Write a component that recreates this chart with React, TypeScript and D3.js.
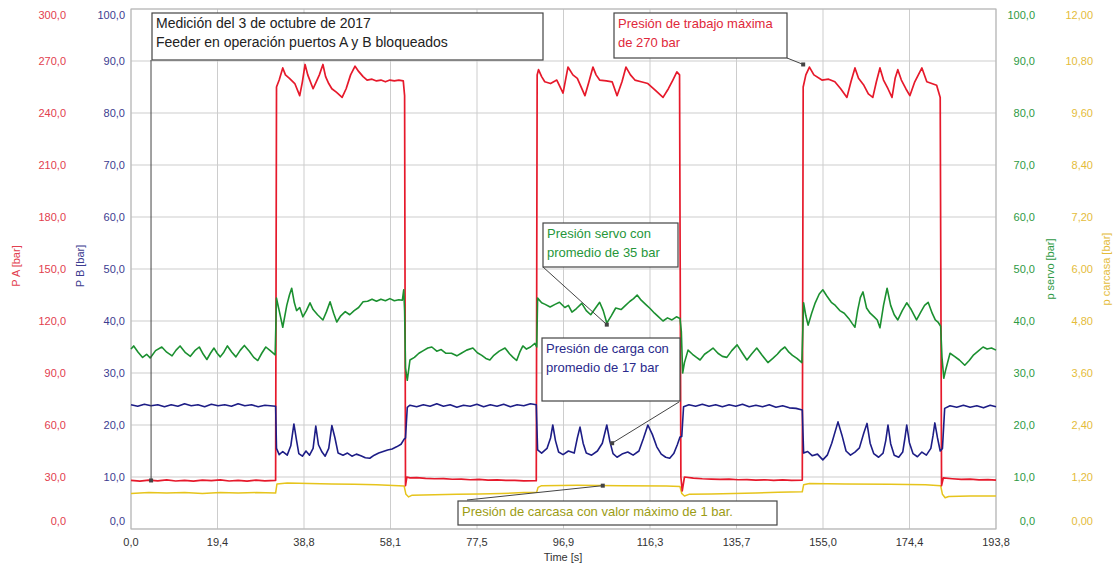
import React from "react";
import * as d3 from "d3";

type Pt = [number, number];

// tick labels (comma decimals as in the original)
const timeTicks = ["0,0", "19,4", "38,8", "58,1", "77,5", "96,9", "116,3", "135,7", "155,0", "174,4", "193,8"];
const paTicks = ["0,0", "30,0", "60,0", "90,0", "120,0", "150,0", "180,0", "210,0", "240,0", "270,0", "300,0"];
const pbTicks = ["0,0", "10,0", "20,0", "30,0", "40,0", "50,0", "60,0", "70,0", "80,0", "90,0", "100,0"];
const servoTicks = ["0,0", "10,0", "20,0", "30,0", "40,0", "50,0", "60,0", "70,0", "80,0", "90,0", "100,0"];
const carcasaTicks = ["0,00", "1,20", "2,40", "3,60", "4,80", "6,00", "7,20", "8,40", "9,60", "10,80", "12,00"];

// P A [bar]  (time s, bar)
const pressureA: Pt[] = [
  [0, 28.0], [2, 27.6], [4, 28.2], [6, 27.8], [8, 28.3], [10, 27.7], [12, 28.1], [14, 27.6], [16, 28.2], [18, 27.9],
  [20, 28.3], [22, 27.7], [24, 28.0], [26, 27.6], [28, 28.2], [30, 27.8], [32.4, 28.0],
  [32.6, 255], [33.2, 259], [34.0, 266], [34.6, 262], [35.5, 260], [36.7, 257], [37.8, 250], [38.4, 258], [39.0, 268],
  [39.6, 262], [40.8, 254], [41.5, 258], [42.2, 262], [43.0, 268], [43.6, 261], [44.3, 257], [45.0, 254], [46.0, 252],
  [47.3, 249], [48.2, 254], [49.2, 262], [50.2, 267], [51.0, 264], [52.0, 261], [52.9, 259], [54, 259.5], [55, 258.5],
  [56, 259], [57, 258], [58, 259], [59, 258.5], [60, 259], [61.0, 258.5], [61.3, 250],
  [61.5, 25], [61.8, 30], [62.5, 29.5], [64, 29.6], [66, 29.2], [68, 29.0], [70, 29.1], [72, 28.7], [74, 28.8],
  [76, 28.4], [78, 28.6], [80, 28.2], [82, 28.3], [84, 28.0], [86, 28.1], [88, 27.8], [90.8, 27.9],
  [91.0, 262], [91.3, 265], [92.0, 261], [92.7, 258], [94, 257], [95.4, 259], [96.8, 251.5], [97.9, 266.5], [99, 262],
  [100, 260], [101.7, 250], [102.6, 258], [103.5, 266.5], [104.2, 262], [105, 259], [106.5, 258.5], [107.8, 258],
  [108.9, 250], [110, 258], [110.9, 266.5], [111.9, 262], [112.9, 259], [114.3, 258], [115.8, 257], [117.5, 253],
  [119.2, 249], [120.4, 254], [121.4, 259], [122.3, 263.7], [122.9, 262],
  [123.2, 30], [123.5, 22], [124, 30], [126, 29.4], [128, 29.0], [130, 28.8], [132, 28.6], [134, 28.8], [136, 28.4],
  [138, 28.5], [140, 28.2], [142, 28.4], [144, 28.1], [146, 28.3], [148, 28.0], [150.4, 28.2],
  [150.6, 255], [151.2, 262], [152.0, 266.5], [153, 262], [154.8, 259], [156.3, 259.5], [157.7, 258], [159, 254],
  [160.4, 249], [161.3, 258], [162.2, 266], [163, 260], [164.2, 256], [165.2, 251], [166.2, 249], [167, 258],
  [167.8, 266], [168.6, 259], [169.6, 254], [170.5, 249], [171.2, 260], [171.8, 265], [172.6, 259], [173.6, 254],
  [174.5, 250], [175.6, 258], [177.2, 266], [178.3, 258], [179.4, 257], [180.5, 256], [181.3, 249],
  [181.6, 25], [182, 29.5], [184, 29.0], [186, 28.6], [188, 28.8], [190, 28.3], [192, 28.5], [193.8, 28.2],
];

// P B [bar]
const pressureB: Pt[] = [
  [0, 23.9], [1.5, 23.6], [3, 24.0], [4.5, 23.7], [6, 23.9], [7.5, 23.5], [9, 23.9], [10.5, 23.6], [12, 24.1],
  [13.5, 23.7], [15, 23.9], [16.5, 23.5], [18, 24.0], [19.5, 23.7], [21, 23.9], [22.5, 23.6], [24, 24.1], [25.5, 23.7],
  [27, 23.9], [28.5, 23.5], [30, 23.8], [32.4, 23.6],
  [32.6, 15.5], [33.2, 14.3], [34, 14.9], [35, 14.2], [35.8, 16], [36.5, 20.2], [37.1, 17], [37.6, 14.5], [38.4, 14],
  [39.2, 15], [40, 14.2], [40.8, 15.5], [41.4, 19.8], [42, 16.2], [42.8, 14.8], [43.5, 14], [44.3, 15.5], [45, 19.9],
  [45.7, 17.5], [46.4, 14.6], [47.5, 14.2], [48.5, 14.6], [49.5, 14.0], [50.5, 14.4], [51.5, 14.1], [52.5, 13.7],
  [53.5, 13.6], [54.5, 14.2], [55.5, 14.6], [56.5, 14.9], [57.5, 15.2], [58.5, 15.4], [59.5, 15.8], [60.5, 16.3],
  [61.2, 17.3],
  [61.5, 17.5], [61.9, 23.4], [62.5, 23.8], [64, 23.5], [65.5, 23.9], [67, 23.6], [68.5, 24.1], [70, 23.6], [71.5, 23.9],
  [73, 23.4], [74.5, 23.8], [76, 23.6], [77.5, 24.0], [79, 23.5], [80.5, 23.9], [82, 23.6], [83.5, 24.0], [85, 23.5],
  [86.5, 23.9], [88, 23.7], [89.5, 24.1], [90.8, 23.9],
  [91.1, 15.2], [92, 14.6], [93.2, 15.5], [94, 17.5], [94.5, 20], [95.1, 17], [95.8, 14.8], [96.8, 14.3], [98, 15],
  [99.3, 14.6], [100, 17.5], [100.6, 19.6], [101.3, 16.5], [102, 14.6], [103.2, 14.2], [104.5, 15], [105.6, 16.5],
  [106.6, 20], [107.3, 16.8], [108, 14.5], [108.9, 13.8], [110, 14.4], [111.3, 14.8], [112.5, 14.2], [113.8, 15],
  [114.8, 17.4], [115.8, 20], [116.8, 18.2], [117.8, 15.8], [118.8, 14.4], [119.8, 13.8], [120.7, 13.6], [121.6, 14.5],
  [122.4, 16.2], [123, 17.7],
  [123.4, 17.8], [123.8, 23.5], [125, 23.9], [126.5, 23.6], [128, 24.0], [129.5, 23.6], [131, 23.9], [132.5, 23.5],
  [134, 23.9], [135.5, 23.6], [137, 24.0], [138.5, 23.5], [140, 23.8], [141.5, 23.5], [143, 23.9], [144.5, 23.4],
  [146, 23.7], [147.5, 23.3], [149, 23.2], [150.4, 22.9],
  [150.7, 14.6], [151.6, 14.9], [152.6, 14.1], [153.8, 14.4], [155, 13.3], [156, 14.2], [157, 16.5], [158.4, 20.6],
  [159.3, 18], [160.2, 15], [161.2, 14.2], [162.2, 14.8], [163.2, 15.6], [164.2, 18.5], [164.9, 20.3], [165.6, 16.5],
  [166.4, 14.5], [167.5, 13.8], [168.5, 14.6], [169.1, 17], [169.6, 20], [170.2, 16.4], [171, 14.2], [172, 13.8],
  [172.9, 14.8], [173.4, 17.5], [173.8, 20], [174.4, 16.6], [175.2, 14.5], [176.2, 13.9], [177.2, 14.8], [178.2, 14.2],
  [179.2, 15.5], [179.7, 18], [180.1, 20.4], [180.7, 17.5], [181.3, 15],
  [181.8, 15.5], [182.3, 23.2], [183.5, 23.7], [185, 23.4], [186.5, 23.8], [188, 23.4], [189.5, 23.7], [191, 23.3],
  [192.5, 23.8], [193.8, 23.5],
];

// p servo [bar]
const servo: Pt[] = [
  [0, 34.6], [0.6, 35.2], [1.6, 34.0], [2.6, 33.0], [3.5, 33.6], [4.3, 32.9], [5.5, 34.3], [6.9, 35.0], [8.0, 34.0],
  [9.2, 33.3], [10.1, 34.4], [11.0, 35.2], [12.2, 33.9], [13.3, 33.2], [14.3, 34.3], [15.3, 35.0], [16.2, 33.6],
  [17.0, 32.6], [17.8, 33.8], [18.6, 34.8], [19.3, 33.8], [20.0, 33.1], [20.8, 34.0], [21.6, 35.2], [22.6, 34.0],
  [23.5, 33.1], [24.5, 34.4], [25.4, 35.3], [26.5, 34.2], [27.5, 33.0], [28.4, 32.4], [29.3, 33.8], [30.2, 35.0],
  [31.2, 34.3], [32.3, 33.5],
  [32.6, 44.4], [33.2, 42.0], [34.0, 38.8], [34.9, 43.0], [35.5, 45.0], [36.0, 46.3], [36.6, 43.5], [37.1, 42.0],
  [37.8, 42.6], [38.5, 40.8], [39.3, 42.0], [40.1, 43.5], [40.8, 42.2], [41.8, 41.2], [43.0, 40.2], [43.8, 41.8],
  [44.6, 43.7], [45.4, 41.5], [46.1, 39.8], [47.0, 41.0], [48.0, 41.8], [49.0, 41.2], [50.0, 42.0], [51.0, 42.6],
  [52.0, 43.7], [53.0, 43.8], [54.0, 44.2], [55, 43.8], [56, 44.2], [57, 43.9], [58, 44.3], [59, 43.9], [60, 44.1],
  [60.8, 44.0], [61.1, 46.0], [61.3, 42.0],
  [61.5, 31], [61.9, 28.6], [62.5, 32.5], [63.5, 33.0], [64.5, 33.8], [65.5, 34.3], [66.5, 34.8], [67.4, 35.0],
  [68.5, 34.2], [69.5, 34.5], [70.5, 33.8], [71.8, 33.8], [73.0, 33.3], [74.0, 33.8], [75.2, 34.4], [76.6, 34.8],
  [77.6, 33.9], [78.6, 33.4], [79.5, 32.8], [80.4, 32.5], [81.3, 33.4], [82.5, 34.2], [83.8, 34.8], [84.8, 33.7],
  [85.6, 33.0], [86.4, 32.4], [87.1, 34.0], [87.8, 35.2], [88.6, 34.6], [89.5, 35.0], [90.5, 35.7], [90.9, 35.0],
  [91.1, 44.4], [92.0, 43.5], [92.8, 43.2], [93.9, 42.7], [95.0, 43.2], [96.0, 43.6], [97.2, 42.6], [98.0, 43.0],
  [98.8, 41.7], [99.8, 42.4], [101, 43.4], [102, 42.0], [103, 41.2], [104, 42.4], [105, 43.6], [105.8, 42.0],
  [106.6, 39.6], [107.6, 41.0], [108.6, 42.5], [109.8, 42.2], [110.8, 43.0], [111.8, 43.8], [112.6, 44.3],
  [113.4, 45.0], [114.3, 44.0], [115.3, 43.2], [116.3, 42.4], [117.3, 41.5], [118.2, 40.8], [119.2, 40.0],
  [120.2, 40.6], [121.2, 40.2], [122.2, 40.8], [123.0, 40.5],
  [123.3, 38], [123.6, 30], [124.0, 32.0], [124.8, 34.4], [125.8, 33.6], [126.7, 33.0], [127.5, 32.5], [128.5, 33.6],
  [129.5, 34.2], [130.4, 34.8], [131.5, 33.8], [132.5, 33.2], [133.5, 33.0], [134.6, 34.3], [135.8, 35.4],
  [137.0, 33.8], [138.0, 32.5], [139.0, 33.6], [140.2, 34.8], [141.4, 33.4], [142.7, 32.0], [143.8, 32.8],
  [144.8, 33.6], [145.6, 34.4], [146.5, 35.0], [147.4, 34.0], [148.2, 33.4], [149.2, 32.8], [150.3, 32.0],
  [150.7, 43.5], [151.2, 41.0], [151.7, 39.2], [152.5, 41.5], [153.3, 43.5], [154.2, 45.2], [155.0, 46.0],
  [155.9, 44.8], [156.9, 43.6], [157.8, 43.0], [158.8, 42.0], [159.8, 41.5], [160.8, 40.5], [161.6, 39.5],
  [162.2, 38.8], [162.8, 42.0], [163.4, 44.5], [164.0, 45.6], [164.8, 42.5], [165.6, 41.5], [166.5, 40.8],
  [167.2, 40.2], [167.8, 38.7], [168.6, 43.0], [169.4, 46.3], [170.2, 43.0], [171.0, 41.2], [171.8, 40.2],
  [172.8, 42.0], [173.8, 43.5], [174.8, 42.2], [176.0, 40.2], [177.0, 41.8], [177.8, 43.0], [178.6, 43.6],
  [179.5, 41.5], [180.2, 40.2], [180.8, 39.8], [181.4, 39.0],
  [181.7, 33], [182.1, 29], [182.5, 30.5], [183.5, 33.8], [184.5, 33.2], [185.6, 32.5], [186.8, 31.5], [187.8, 32.4],
  [188.8, 33.5], [189.8, 34.2], [190.9, 35.0], [191.8, 34.6], [192.8, 34.8], [193.8, 34.4],
];

// p carcasa [bar]
const carcasa: Pt[] = [
  [0, 0.82], [4, 0.84], [8, 0.83], [12, 0.84], [16, 0.82], [20, 0.84], [24, 0.83], [28, 0.84], [32.4, 0.83],
  [32.7, 1.04], [35, 1.06], [40, 1.05], [45, 1.04], [50, 1.03], [55, 1.02], [60, 1.0], [61.2, 0.99],
  [61.6, 0.8], [62.2, 0.74], [63, 0.78], [68, 0.79], [73, 0.8], [78, 0.81], [83, 0.82], [88, 0.84], [90.9, 0.85],
  [91.2, 0.96], [92, 1.0], [100, 1.01], [110, 1.0], [120, 0.99], [123.0, 0.98],
  [123.4, 0.82], [124, 0.76], [125, 0.8], [130, 0.81], [135, 0.82], [140, 0.83], [145, 0.85], [150.4, 0.86],
  [150.7, 1.02], [152, 1.05], [160, 1.04], [170, 1.03], [178, 1.02], [181.4, 1.0],
  [181.8, 0.8], [182.4, 0.72], [183.2, 0.75], [188, 0.76], [193.8, 0.76],
];

const W = 1116;
const H = 564;
const plot = { left: 131, right: 996, top: 9, bottom: 529 };
const FONT = "'Liberation Sans', Arial, sans-serif";

const RED = "#e6192b";
const BLUE = "#1d1d86";
const GREEN = "#1b9030";
const YELLOW = "#e6c41c";

const x = d3.scaleLinear().domain([0, 193.8]).range([plot.left, plot.right]);
const yA = d3.scaleLinear().domain([0, 300]).range([plot.bottom, plot.top]);
const yB = d3.scaleLinear().domain([0, 100]).range([plot.bottom, plot.top]);
const yS = d3.scaleLinear().domain([0, 100]).range([plot.bottom, plot.top]);
const yC = d3.scaleLinear().domain([0, 12]).range([plot.bottom, plot.top]);

const mkLine = (ys: d3.ScaleLinear<number, number>) =>
  d3.line<Pt>().x((d) => x(d[0])).y((d) => ys(d[1]));

// annotation boxes (pixels) and the data point each leader points at
const notes = [
  { lines: ["Medición del 3 de octubre de 2017", "Feeder en operación puertos A y B bloqueados"], color: "#222",
    box: [152, 13, 391, 47], size: 14, from: [151, 60], to: [4.5, 28], scale: yA },
  { lines: ["Presión de trabajo máxima", "de 270 bar"], color: "#e0283a",
    box: [614, 13, 173, 45], size: 13, from: [787, 58], to: [150.6, 268], scale: yA },
  { lines: ["Presión servo con", "promedio de 35 bar"], color: "#26963a",
    box: [543, 223, 135, 44], size: 13, from: [543, 267], to: [106.6, 39.3], scale: yS },
  { lines: ["Presión de carga con", "promedio de 17 bar"], color: "#2a2a8c",
    box: [542, 338, 138, 63], size: 13, from: [679, 402], to: [107.8, 16.5], scale: yB },
  { lines: ["Presión de carcasa con valor máximo de 1 bar."], color: "#9c9c14",
    box: [458, 501, 319, 24], size: 13, from: [467, 500], to: [105.7, 1.0], scale: yC },
];

const leftAxes = [
  { labels: paTicks, color: "#e2404e", xr: 66, title: "P A [bar]", tx: 16 },
  { labels: pbTicks, color: "#3c3c90", xr: 125, title: "P B [bar]", tx: 80 },
];
const rightAxes = [
  { labels: servoTicks, color: "#2e9a44", xr: 1035, title: "p servo [bar]", tx: 1050 },
  { labels: carcasaTicks, color: "#e4bc3a", xr: 1093, title: "p carcasa [bar]", tx: 1106 },
];

const tickY = (i: number) => {
  const y = plot.bottom - ((plot.bottom - plot.top) * i) / 10;
  if (i === 0) return y - 8;
  if (i === 10) return y + 6;
  return y;
};

export default function App() {
  const series = [
    { data: carcasa, scale: yC, color: YELLOW, w: 1.5 },
    { data: pressureA, scale: yA, color: RED, w: 1.7 },
    { data: pressureB, scale: yB, color: BLUE, w: 1.6 },
    { data: servo, scale: yS, color: GREEN, w: 1.6 },
  ];
  const gridY = d3.range(11).map((i) => yB(i * 10));
  const gridX = d3.range(11).map((i) => x((193.8 * i) / 10));

  return (
    <svg width={W} height={H} style={{ position: "absolute", left: 0, top: 0, background: "#fff" }} fontFamily={FONT}>
      <rect x={0} y={0} width={W} height={H} fill="#fff" />
      {/* grid */}
      {gridY.map((gy, i) => (
        <line key={"gy" + i} x1={plot.left} x2={plot.right} y1={gy} y2={gy} stroke="#cdcdcd" />
      ))}
      {gridX.map((gx, i) => (
        <line key={"gx" + i} x1={gx} x2={gx} y1={plot.top} y2={plot.bottom} stroke="#cdcdcd" />
      ))}
      <rect x={plot.left} y={plot.top} width={plot.right - plot.left} height={plot.bottom - plot.top}
        fill="none" stroke="#b5b5b5" />

      {/* series */}
      {series.map((s, i) => (
        <path key={"s" + i} d={mkLine(s.scale)(s.data) || ""} fill="none" stroke={s.color}
          strokeWidth={s.w} strokeLinejoin="round" />
      ))}

      {/* left axes */}
      {leftAxes.map((a, k) => (
        <g key={"la" + k} fill={a.color} fontSize={11}>
          {a.labels.map((l, i) => (
            <text key={i} x={a.xr} y={tickY(i)} textAnchor="end" dominantBaseline="central">{l}</text>
          ))}
          <text transform={`translate(${a.tx},266) rotate(-90)`} textAnchor="middle" dominantBaseline="central">
            {a.title}
          </text>
        </g>
      ))}
      {/* right axes */}
      {rightAxes.map((a, k) => (
        <g key={"ra" + k} fill={a.color} fontSize={11}>
          {a.labels.map((l, i) => (
            <text key={i} x={a.xr} y={tickY(i)} textAnchor="end" dominantBaseline="central">{l}</text>
          ))}
          <text transform={`translate(${a.tx},269) rotate(-90)`} textAnchor="middle" dominantBaseline="central">
            {a.title}
          </text>
        </g>
      ))}
      {/* time axis */}
      <g fill="#333" fontSize={11}>
        {timeTicks.map((l, i) => (
          <text key={i} x={gridX[i]} y={542} textAnchor="middle" dominantBaseline="central">{l}</text>
        ))}
        <text x={563} y={557} textAnchor="middle" dominantBaseline="central">Time [s]</text>
      </g>

      {/* annotations */}
      {notes.map((n, k) => {
        const ex = x(n.to[0]);
        const ey = n.scale(n.to[1]);
        return (
          <g key={"n" + k}>
            <line x1={n.from[0]} y1={n.from[1]} x2={ex} y2={ey} stroke="#444" strokeWidth={1} />
            <rect x={ex - 2} y={ey - 2} width={4} height={4} fill="#444" />
            <rect x={n.box[0]} y={n.box[1]} width={n.box[2]} height={n.box[3]} fill="#fff" stroke="#444" strokeWidth={1.2} />
            {n.lines.map((t, j) => (
              <text key={j} x={n.box[0] + 4} y={n.box[1] + 15 + j * 19} fill={n.color} fontSize={n.size}>{t}</text>
            ))}
          </g>
        );
      })}
    </svg>
  );
}
